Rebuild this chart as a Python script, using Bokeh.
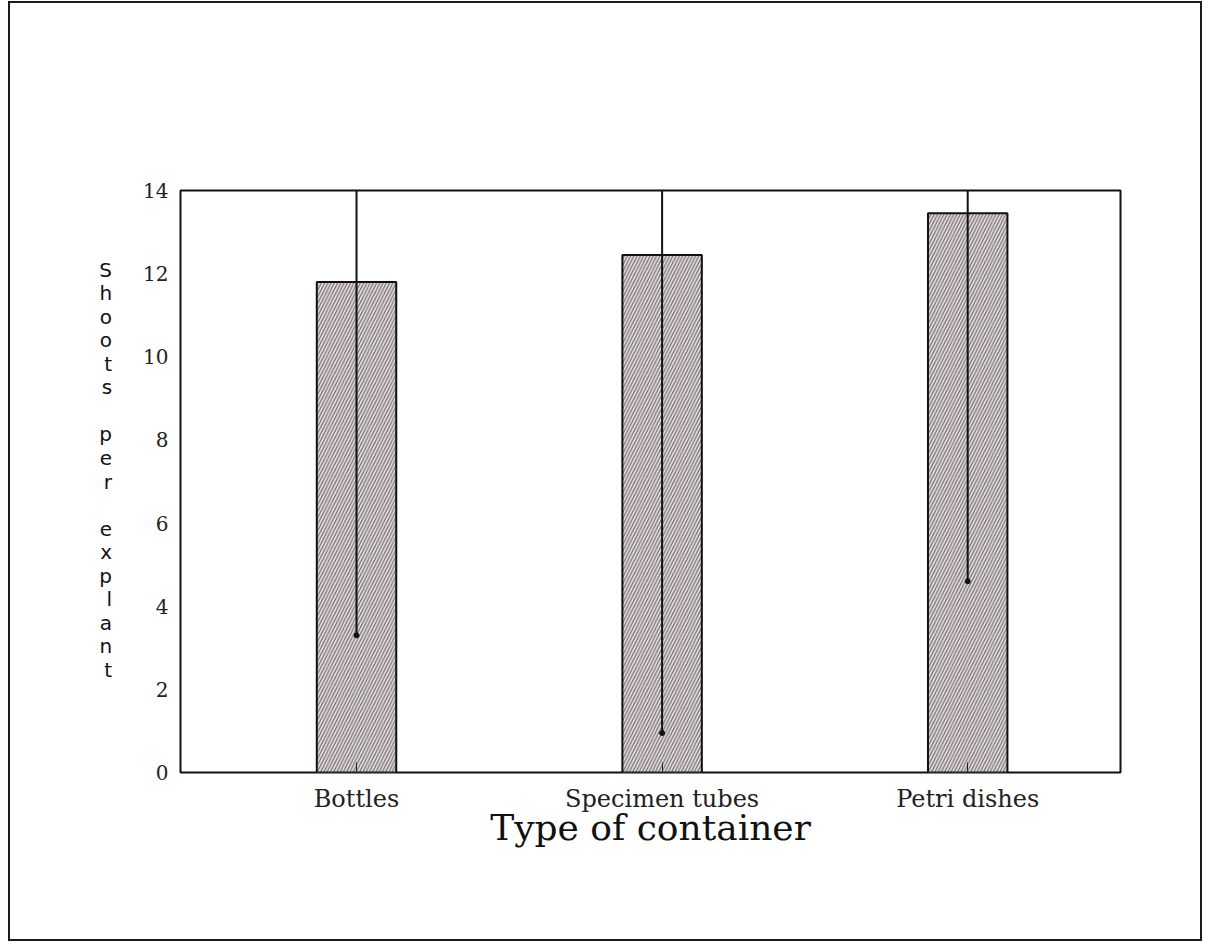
from bokeh.plotting import figure
from bokeh.models import Range1d, FixedTicker
from bokeh.embed import file_html
from bokeh.resources import INLINE

categories = ["Bottles", "Specimen tubes", "Petri dishes"]
means = [11.8, 12.45, 13.45]
sd = [8.5, 11.5, 8.85]
y_ticks = [0, 2, 4, 6, 8, 10, 12, 14]
y_title = "Shoots per explant"

xs = [i + 1 for i in range(len(categories))]
lower = [m - s for m, s in zip(means, sd)]
upper = [m + s for m, s in zip(means, sd)]

p = figure(width=1194, height=940, output_backend="svg", toolbar_location=None,
           x_range=Range1d(0.424, 3.5), y_range=Range1d(0, 14),
           min_border_left=170, min_border_right=84, min_border_top=187,
           min_border_bottom=171)
p.styles = {"border": "2px solid #1a1a1a", "margin-left": "8px", "margin-top": "1px"}
p.background_fill_color = "white"
p.border_fill_color = "white"
p.outline_line_color = "#111111"
p.outline_line_width = 2
p.grid.visible = False

p.vbar(x=xs, top=means, bottom=0, width=0.26, fill_color="#e4dcdc",
       line_color="#111111", line_width=2,
       hatch_pattern="/", hatch_color="#625c5c", hatch_scale=6.5, hatch_weight=1)
p.segment(x0=xs, y0=lower, x1=xs, y1=upper, line_color="#111111", line_width=2)
p.scatter(x=xs, y=lower, size=5, color="#111111")

p.xaxis.ticker = FixedTicker(ticks=xs)
p.xaxis.major_label_overrides = {x: c for x, c in zip(xs, categories)}
p.xaxis.major_tick_in = 10
p.xaxis.major_tick_out = 0
p.xaxis.major_tick_line_color = "#222222"
p.xaxis.axis_line_color = None
p.xaxis.major_label_text_font = "DejaVu Serif"
p.xaxis.major_label_text_font_size = "24px"
p.xaxis.major_label_text_color = "#222222"
p.xaxis.major_label_standoff = 12
p.xaxis.axis_label = "Type of container"
p.xaxis.axis_label_text_font = "DejaVu Serif"
p.xaxis.axis_label_text_font_size = "36px"
p.xaxis.axis_label_text_font_style = "normal"
p.xaxis.axis_label_text_color = "#111111"
p.xaxis.axis_label_standoff = -9

p.yaxis.ticker = FixedTicker(ticks=y_ticks)
p.yaxis.major_tick_in = 0
p.yaxis.major_tick_out = 0
p.yaxis.minor_tick_line_color = None
p.yaxis.axis_line_color = None
p.yaxis.major_label_text_font = "DejaVu Serif"
p.yaxis.major_label_text_font_size = "20px"
p.yaxis.major_label_text_color = "#222222"
p.yaxis.major_label_standoff = 12
stacked = "\n".join("" if ch == " " else ch for ch in y_title) + "\n "
p.yaxis.axis_label = stacked
p.yaxis.axis_label_orientation = "horizontal"
p.yaxis.axis_label_text_font = "DejaVu Sans"
p.yaxis.axis_label_text_font_size = "20px"
p.yaxis.axis_label_text_font_style = "normal"
p.yaxis.axis_label_text_line_height = 0.98
p.yaxis.axis_label_text_color = "#111111"
p.yaxis.axis_label_standoff = 28

open("out.html", "w").write(file_html(p, INLINE))
